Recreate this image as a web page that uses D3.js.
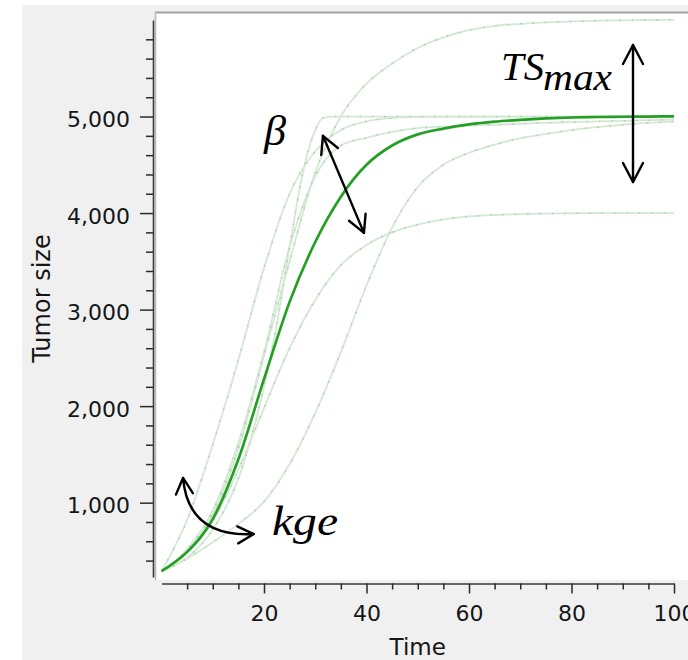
<!DOCTYPE html>
<html><head><meta charset="utf-8">
<script src="https://cdn.jsdelivr.net/npm/d3@7"></script>
<style>html,body{margin:0;padding:0;background:#fff;} svg{display:block}</style>
</head><body>
<svg id="chart" width="688" height="660"></svg>
<script>
// ---- data ----
const time = [0,5,10,15,20,25,30,35,40,45,50,55,60,65,70,75,80,85,90,95,100];
const tumorMain    = [290,490,830,1450,2280,3080,3700,4170,4500,4700,4815,4875,4918,4947,4966,4980,4990,4995,4998,5000,5002];
const tumorKgeHigh = [290,820,1600,2480,3430,4200,4640,4860,4950,4985,4997,5000,5000,5000,5000,5000,5000,5000,5000,5000,5000];
const tumorKgeLow  = [290,420,590,780,1010,1400,1930,2560,3250,3850,4270,4500,4625,4710,4775,4820,4860,4890,4915,4935,4948];
const tumorTsHigh  = [290,500,880,1560,2520,3500,4420,5000,5340,5550,5710,5820,5895,5940,5960,5975,5985,5992,5997,6000,6003];
const tumorTsLow   = [290,480,810,1340,1980,2600,3100,3460,3670,3800,3880,3935,3965,3980,3990,3995,3998,4000,4000,4000,4000];
const tumorBetaLow = [290,520,920,1620,2560,3650,4380,4700,4780,4840,4880,4895,4905,4915,4925,4935,4943,4950,4956,4962,4968];
const timeBetaHigh = [0,5,10,15,20,22.5,25,27.5,30,31.5,33,40,50,60,70,80,90,100];
const tumorBetaHigh= [290,430,720,1250,2200,2850,3650,4400,4860,4985,5000,5000,5000,5000,5000,5000,5000,5000];
const xMajorTicks = [20,40,60,80,100];
const xMinorTicks = [5,10,15,25,30,35,45,50,55,65,70,75,85,90,95];
const yMajorTicks = [1000,2000,3000,4000,5000];
const yMinorTicks = [400,600,800,1200,1400,1600,1800,2200,2400,2600,2800,3200,3400,3600,3800,4200,4400,4600,4800,5200,5400,5600,5800];

// ---- layout ----
const W = 688, H = 660;
const svg = d3.select("#chart");
const FONT = "'DejaVu Sans', Verdana, sans-serif";

svg.append("rect").attr("x",22).attr("y",5).attr("width",W-22).attr("height",H-5).attr("fill","#f0f0f0");
svg.append("rect").attr("x",155).attr("y",12).attr("width",W-155).attr("height",580-12).attr("fill","#ffffff");
svg.append("line").attr("x1",155).attr("x2",W).attr("y1",12.5).attr("y2",12.5).attr("stroke","#a2a2a2").attr("stroke-width",2);
svg.append("line").attr("x1",155.5).attr("x2",155.5).attr("y1",12).attr("y2",580).attr("stroke","#b8b8b8").attr("stroke-width",1.5);

const x = d3.scaleLinear().domain([0,100]).range([161.5,674]);
const y = d3.scaleLinear().domain([230,6000]).range([577,20]);

// ---- curves ----
const line = d3.line().x(d=>x(d[0])).y(d=>y(d[1])).curve(d3.curveMonotoneX);
const zip = (t,v)=>t.map((d,i)=>[d,v[i]]);
const faint = [
  zip(time,tumorTsHigh), zip(time,tumorTsLow), zip(time,tumorKgeHigh),
  zip(time,tumorKgeLow), zip(time,tumorBetaLow), zip(timeBetaHigh,tumorBetaHigh)
];
const gCurves = svg.append("g");
faint.forEach(s=>{
  gCurves.append("path").attr("d",line(s)).attr("fill","none")
    .attr("stroke","#d3e9d3").attr("stroke-width",1.8);
  gCurves.append("path").attr("d",line(s)).attr("fill","none")
    .attr("stroke","#a9bda9").attr("stroke-width",1.6).attr("stroke-dasharray","1.4 11").attr("opacity",0.75);
});
gCurves.append("path").attr("d",line(zip(time,tumorMain))).attr("fill","none")
  .attr("stroke","#23a023").attr("stroke-width",2.7).attr("stroke-linejoin","round");

// ---- axes ----
function styleAxis(g){
  g.selectAll("path.domain").attr("stroke","#3a3a3a").attr("stroke-width",1.6);
  g.selectAll(".tick line").attr("stroke","#2a2a2a").attr("stroke-width",1.5);
  g.selectAll(".tick text").attr("font-family",FONT).attr("font-size","22px").attr("fill","#151515");
}
const gy = svg.append("g").attr("transform","translate(153,0)")
  .call(d3.axisLeft(y).tickValues(yMajorTicks).tickSize(13).tickSizeOuter(0).tickPadding(10).tickFormat(d3.format(",")));
styleAxis(gy);
gy.selectAll(".tick text").attr("dy","0.46em");
const gyMinor = svg.append("g").attr("transform","translate(153,0)")
  .call(d3.axisLeft(y).tickValues(yMinorTicks).tickSize(7).tickFormat(""));
gyMinor.select("path.domain").remove();
styleAxis(gyMinor);

const gx = svg.append("g").attr("transform","translate(0,583.5)")
  .call(d3.axisBottom(x).tickValues(xMajorTicks).tickSize(10).tickSizeOuter(0).tickPadding(12));
styleAxis(gx);
const gxMinor = svg.append("g").attr("transform","translate(0,583.5)")
  .call(d3.axisBottom(x).tickValues(xMinorTicks).tickSize(6).tickFormat(""));
gxMinor.select("path.domain").remove();
styleAxis(gxMinor);

svg.append("text").attr("x",(x.range()[0]+x.range()[1])/2).attr("y",655).attr("text-anchor","middle")
  .attr("font-family",FONT).attr("font-size","23px").attr("fill","#151515").text("Time");
svg.append("text").attr("transform",`translate(50,${(y.range()[0]+y.range()[1])/2}) rotate(-90)`).attr("text-anchor","middle")
  .attr("font-family",FONT).attr("font-size","24px").attr("fill","#151515").text("Tumor size");

// ---- annotations ----
const gA = svg.append("g").attr("stroke","#000").attr("stroke-width",2.4).attr("fill","none").attr("stroke-linecap","round").attr("stroke-linejoin","round");
function head(tx,ty,dx,dy,len=17,half=9){
  const n=Math.hypot(dx,dy); dx/=n; dy/=n;
  const px=-dy, py=dx;
  const bx=tx-len*dx, by=ty-len*dy;
  gA.append("path").attr("d",`M${bx+half*px},${by+half*py}L${tx},${ty}L${bx-half*px},${by-half*py}`);
}
// TSmax arrow
{
  const ax=x(92), y1=y(5741), y2=y(4322);
  gA.append("line").attr("x1",ax).attr("x2",ax).attr("y1",y1).attr("y2",y2);
  head(ax,y1,0,-1,19,10); head(ax,y2,0,1,19,10);
}
// beta arrow
{
  const A=[x(31.5),y(4800)], B=[x(39.5),y(3795)];
  gA.append("line").attr("x1",A[0]).attr("y1",A[1]).attr("x2",B[0]).attr("y2",B[1]);
  head(A[0],A[1],A[0]-B[0],A[1]-B[1],17,9); head(B[0],B[1],B[0]-A[0],B[1]-A[1],17,9);
}
// kge curved arrow
{
  const P0=[x(4.2),y(1256)], C=[x(5.2),y(640)], P1=[x(18),y(675)];
  gA.append("path").attr("d",`M${P0[0]},${P0[1]}Q${C[0]},${C[1]} ${P1[0]},${P1[1]}`);
  head(P0[0],P0[1],P0[0]-C[0],P0[1]-C[1],16,8.5); head(P1[0],P1[1],P1[0]-C[0],P1[1]-C[1],16,8.5);
}
const SERIF = "'Liberation Serif', 'Times New Roman', serif";
const ann = svg.append("g").attr("font-family",SERIF).attr("font-style","italic").attr("fill","#000");
ann.append("text").attr("x",501).attr("y",80).attr("font-size","40px").attr("textLength",43).attr("lengthAdjust","spacingAndGlyphs").text("TS");
ann.append("text").attr("x",543).attr("y",90).attr("font-size","38px").attr("textLength",69).attr("lengthAdjust","spacingAndGlyphs").text("max");
ann.append("text").attr("x",264).attr("y",145).attr("font-size","42px").attr("textLength",22).attr("lengthAdjust","spacingAndGlyphs").text("β");
ann.append("text").attr("x",272).attr("y",535).attr("font-size","42px").attr("textLength",66).attr("lengthAdjust","spacingAndGlyphs").text("kge");
</script>
</body></html>
